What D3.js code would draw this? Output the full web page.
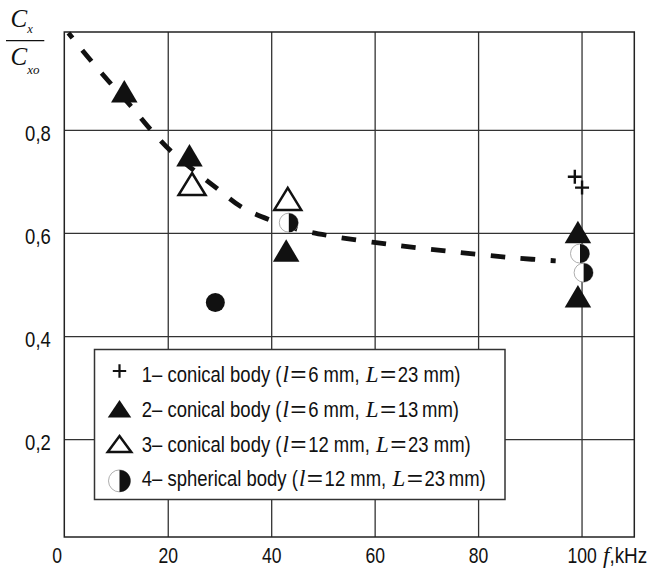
<!DOCTYPE html>
<html>
<head>
<meta charset="utf-8">
<script src="https://cdn.jsdelivr.net/npm/d3@7"></script>
<style>
body { margin: 0; background: #fff; }
svg { display: block; }
.sans { font-family: "Liberation Sans", Arial, sans-serif; }
.serif { font-family: "Liberation Serif", "Times New Roman", serif; font-style: italic; }
</style>
</head>
<body>
<svg id="chart" width="657" height="571"></svg>
<script>
// axis ticks
var xTicks = [0, 20, 40, 60, 80, 100];
var xTickLabels = ["0", "20", "40", "60", "80", "100"];
var yTicks = [0.2, 0.4, 0.6, 0.8];
var yTickLabels = ["0,2", "0,4", "0,6", "0,8"];

// dashed fit curve
var fitF = [0.8, 4.6, 8.7, 12.9, 16.4, 20.6, 25.5, 29.7, 34.3, 39.8, 45.6, 51.6, 63.5, 75.7, 87.8, 95];
var fitV = [0.988, 0.941, 0.893, 0.846, 0.804, 0.759, 0.718, 0.685, 0.650, 0.625, 0.606, 0.594, 0.577, 0.563, 0.551, 0.546];

// 1 - conical body l=6, L=23 (plus)
var s1F = [98.7, 100.1];
var s1V = [0.709, 0.688];
// 2 - conical body l=6, L=13 (filled triangle)
var s2F = [11.6, 24.2, 42.9, 99.3, 99.3];
var s2V = [0.875, 0.751, 0.566, 0.602, 0.477];
// 3 - conical body l=12, L=23 (open triangle)
var s3F = [24.7, 43.2];
var s3V = [0.695, 0.666];
// 4 - spherical body l=12, L=23 (half circle)
var s4F = [43.4, 99.7, 100.4];
var s4V = [0.620, 0.560, 0.523];
// unlabelled filled circle
var dotF = [29.2];
var dotV = [0.465];

// legend, odd parts are italic
var legendKinds = ["plus", "triFilled", "triOpen", "half"];
var legendParts = [
    ["1\u2013 conical body (", "l", "=6 mm, ", "L", "=23 mm)"],
    ["2\u2013 conical body (", "l", "=6 mm, ", "L", "=13\u2009mm)"],
    ["3\u2013 conical body (", "l", "=12 mm, ", "L", "=23 mm)"],
    ["4\u2013 spherical body (", "l", "=12 mm, ", "L", "=23\u2009mm)"]
];

var margin = { top: 32, right: 22.7, bottom: 34, left: 64.3 };
var width = 657 - margin.left - margin.right;
var height = 571 - margin.top - margin.bottom;

var svg = d3.select("#chart");
var g = svg.append("g")
    .attr("transform", "translate(" + margin.left + "," + margin.top + ")");

var x = d3.scaleLinear().domain([0, 110.2]).range([0, width]);
var y = d3.scaleLinear().domain([0.01, 0.99]).range([height, 0]);

function zip(a, b) {
    return a.map(function (d, i) { return [d, b[i]]; });
}

// text runs laid out one after another, each squeezed horizontally
function placeRun(parent, x0, y0, runs) {
    var cx = x0;
    runs.forEach(function (r) {
        cx += r.padL || 0;
        var t = parent.append("text")
            .attr("class", r.cls)
            .attr("transform", "translate(" + cx + "," + y0 + ") scale(" + r.sx + ",1)")
            .attr("fill", "#111")
            .style("white-space", "pre")
            .style("font-size", r.size + "px")
            .text(r.text);
        cx += t.node().getComputedTextLength() * r.sx + (r.pad || 0);
    });
}

// grid
g.append("g")
    .attr("class", "gridx")
    .attr("transform", "translate(0," + height + ")")
    .call(d3.axisBottom(x).tickValues(xTicks.slice(1)).tickSize(-height).tickFormat(""));
g.append("g")
    .attr("class", "gridy")
    .call(d3.axisLeft(y).tickValues(yTicks).tickSize(-width).tickFormat(""));
g.selectAll(".gridx .domain, .gridy .domain").remove();
g.selectAll(".gridx line, .gridy line")
    .attr("stroke", "#333")
    .attr("stroke-width", 1.3);

g.append("rect")
    .attr("width", width)
    .attr("height", height)
    .attr("fill", "none")
    .attr("stroke", "#222")
    .attr("stroke-width", 1.5);

// axes labels
var xAxis = g.append("g")
    .attr("class", "x axis sans")
    .attr("transform", "translate(0," + height + ")")
    .call(d3.axisBottom(x).tickValues(xTicks).tickSize(0)
        .tickFormat(function (d, i) { return xTickLabels[i]; }));
xAxis.select(".domain").remove();
xAxis.selectAll("text")
    .attr("y", 26)
    .attr("dy", 0)
    .attr("transform", "scale(0.78,1)")
    .style("font-size", "22.5px")
    .style("font-family", null)
    .attr("fill", "#111");
xAxis.selectAll("text").filter(function (d) { return d === 0; }).attr("x", -10);

var yAxis = g.append("g")
    .attr("class", "y axis sans")
    .call(d3.axisLeft(y).tickValues(yTicks).tickSize(0).tickPadding(13.5 / 0.86)
        .tickFormat(function (d, i) { return yTickLabels[i]; }));
yAxis.select(".domain").remove();
yAxis.selectAll("text")
    .attr("dy", "0.5em")
    .attr("transform", "scale(0.86,1)")
    .style("font-size", "21.5px")
    .style("font-family", null)
    .attr("fill", "#111");

// x title
placeRun(svg, 603, 563, [
    { text: "f", cls: "serif", size: 23, sx: 1 },
    { text: ",kHz", cls: "sans", size: 21.5, sx: 0.88 }
]);

// y title
var yt1 = svg.append("text").attr("class", "serif").attr("x", 10.5).attr("y", 27).attr("fill", "#111");
yt1.append("tspan").style("font-size", "25px").text("C");
yt1.append("tspan").attr("dy", 6.3).style("font-size", "12.5px").text("x");
svg.append("line")
    .attr("x1", 6).attr("x2", 44.3)
    .attr("y1", 40.7).attr("y2", 40.7)
    .attr("stroke", "#111")
    .attr("stroke-width", 1.2);
var yt2 = svg.append("text").attr("class", "serif").attr("x", 10.5).attr("y", 65).attr("fill", "#111");
yt2.append("tspan").style("font-size", "25px").text("C");
yt2.append("tspan").attr("dy", 9).style("font-size", "13px").text("xo");

// dashed curve
var valueline = d3.line()
    .curve(d3.curveCatmullRom)
    .x(function (d) { return x(d[0]); })
    .y(function (d) { return y(d[1]); });

g.append("path")
    .datum(zip(fitF, fitV))
    .attr("class", "fitline")
    .attr("d", valueline)
    .attr("fill", "none")
    .attr("stroke", "#111")
    .attr("stroke-width", 4.8)
    .attr("stroke-dasharray", "14.5,15.5")
    .attr("stroke-dashoffset", 8);

// marker helpers
function triPath(w, h) {
    return "M0," + (-h / 2) + "L" + (w / 2) + "," + (h / 2) + "L" + (-w / 2) + "," + (h / 2) + "Z";
}

function drawMarker(sel, kind, big) {
    if (kind === "plus") {
        var a = big ? 7 : 6.7;
        sel.append("path")
            .attr("d", "M" + (-a) + ",0H" + a + "M0," + (-a) + "V" + a)
            .attr("stroke", "#111")
            .attr("stroke-width", big ? 2.4 : 2.2)
            .attr("fill", "none");
    } else if (kind === "triFilled") {
        sel.append("path")
            .attr("d", big ? triPath(26.5, 22.5) : triPath(23.5, 17.5))
            .attr("fill", "#111");
    } else if (kind === "triOpen") {
        sel.append("path")
            .attr("d", big ? triPath(27, 22) : triPath(23.5, 16))
            .attr("fill", "#fff")
            .attr("stroke", "#111")
            .attr("stroke-width", 2.5);
    } else if (kind === "half") {
        var r = big ? 9.5 : 11;
        sel.append("circle")
            .attr("r", r)
            .attr("fill", "#fff")
            .attr("stroke", "#999")
            .attr("stroke-width", 0.8);
        sel.append("path")
            .attr("d", "M0," + (-r) + "A" + r + "," + r + " 0 0,1 0," + r + "Z")
            .attr("fill", "#111");
    } else if (kind === "dot") {
        sel.append("circle")
            .attr("r", 9.5)
            .attr("fill", "#111");
    }
}

var series = [
    { kind: "plus", pts: zip(s1F, s1V) },
    { kind: "triFilled", pts: zip(s2F, s2V) },
    { kind: "triOpen", pts: zip(s3F, s3V) },
    { kind: "half", pts: zip(s4F, s4V) },
    { kind: "dot", pts: zip(dotF, dotV) }
];

series.forEach(function (s) {
    g.selectAll(".m-" + s.kind)
        .data(s.pts)
        .enter().append("g")
        .attr("class", "m-" + s.kind)
        .attr("transform", function (d) { return "translate(" + x(d[0]) + "," + y(d[1]) + ")"; })
        .each(function () { drawMarker(d3.select(this), s.kind, true); });
});

// legend
var legend = svg.append("g").attr("class", "legend");
legend.append("rect")
    .attr("x", 94.5)
    .attr("y", 349.5)
    .attr("width", 410.5)
    .attr("height", 150)
    .attr("fill", "#fff")
    .attr("stroke", "#333")
    .attr("stroke-width", 1.5);

var markerDy = { plus: -10.7, triFilled: -7.8, triOpen: -7.5, half: -5.5 };

legendKinds.forEach(function (kind, i) {
    var base = 381.7 + i * 34.9;
    var m = legend.append("g")
        .attr("transform", "translate(119.5," + (base + markerDy[kind]) + ")");
    drawMarker(m, kind, false);

    var runs = [];
    legendParts[i].forEach(function (p, j) {
        if (j % 2) {
            runs.push({ text: p, cls: "serif", size: 23, sx: 1, padL: 1, pad: 1.5 });
        } else if (p.charAt(0) === "=") {
            runs.push({ text: "=", cls: "sans", size: 21.5, sx: 1.3, pad: 1.5 });
            runs.push({ text: p.slice(1), cls: "sans", size: 21.5, sx: 0.86 });
        } else {
            runs.push({ text: p, cls: "sans", size: 21.5, sx: 0.86 });
        }
    });
    placeRun(legend, 141.7, base, runs);
});
</script>
</body>
</html>
